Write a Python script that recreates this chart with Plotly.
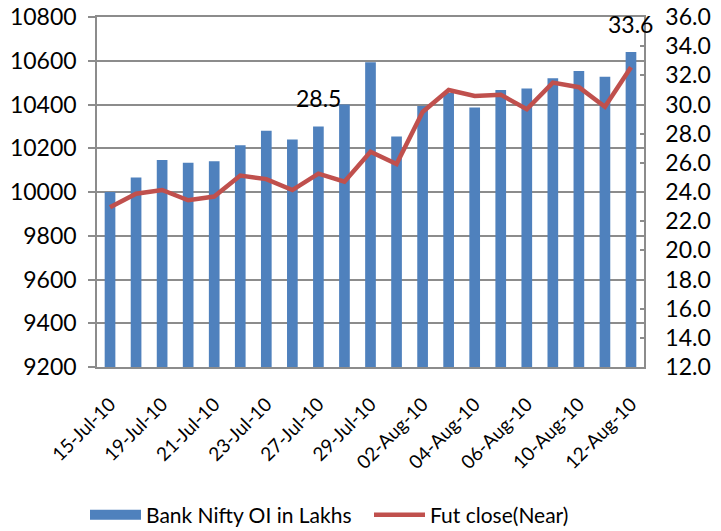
import plotly.graph_objects as go

dates = ["15-Jul-10", "16-Jul-10", "19-Jul-10", "20-Jul-10", "21-Jul-10", "22-Jul-10",
         "23-Jul-10", "26-Jul-10", "27-Jul-10", "28-Jul-10", "29-Jul-10", "30-Jul-10",
         "02-Aug-10", "03-Aug-10", "04-Aug-10", "05-Aug-10", "06-Aug-10", "09-Aug-10",
         "10-Aug-10", "11-Aug-10", "12-Aug-10"]
oi_lakhs = [24.0, 25.0, 26.2, 26.0, 26.1, 27.2, 28.2, 27.6, 28.5, 30.0, 32.9, 27.8,
            29.9, 30.8, 29.8, 31.0, 31.1, 31.8, 32.3, 31.9, 33.6]
fut_close = [9930, 9992, 10009, 9962, 9979, 10075, 10059, 10009, 10084, 10047, 10184, 10128,
             10366, 10466, 10439, 10445, 10378, 10500, 10479, 10390, 10570]
label_idx = [8, 20]
tick_labels = dates[::2]

BLUE = "#4F81BD"
RED = "#C0504D"
GRID = "#8C8C8C"
FONT = "Lato"

x = list(range(len(dates)))

fig = go.Figure()
fig.add_trace(go.Bar(x=x, y=oi_lakhs, marker=dict(color=BLUE, line=dict(width=0)),
                     yaxis="y", showlegend=False, name="Bank Nifty OI in Lakhs"))
fig.add_trace(go.Scatter(x=[None], y=[None], mode="lines", yaxis="y", legend="legend",
                         line=dict(color=BLUE, width=13), name="Bank Nifty OI in Lakhs"))
fig.add_trace(go.Scatter(x=x, y=fut_close, mode="lines", yaxis="y2", legend="legend2",
                         line=dict(color=RED, width=4.5), name="Fut close(Near)"))

for i in label_idx:
    fig.add_annotation(x=x[i], y=oi_lakhs[i], xref="x", yref="y", text=f"{oi_lakhs[i]:.1f}",
                       showarrow=False, yanchor="bottom", yshift=12,
                       font=dict(family=FONT, size=23, color="#000000"))

legend_common = dict(orientation="h", xref="container", yref="container",
                     xanchor="left", yanchor="middle", font=dict(family=FONT, size=21),
                     itemwidth=51, bgcolor="rgba(0,0,0,0)")

fig.update_layout(
    width=721, height=531,
    margin=dict(l=97, r=77, t=17, b=164, autoexpand=False),
    paper_bgcolor="white", plot_bgcolor="white",
    bargap=0.59,
    font=dict(family=FONT, color="#000000"),
    xaxis=dict(range=[-0.5, 20.5], tickmode="array", tickvals=x[::2], ticktext=tick_labels,
               tickangle=-45, ticks="", showgrid=False, zeroline=False, automargin=False,
               showline=True, mirror=True, linecolor=GRID, linewidth=1.5,
               tickfont=dict(family=FONT, size=19), ticklabelstandoff=17),
    xaxis2=dict(overlaying="x", matches="x", range=[-0.5, 20.5], tickmode="array",
                tickvals=[v - 0.5 for v in x[::2]] + [20.5], showticklabels=False,
                ticks="outside", ticklen=6, tickcolor=GRID, tickwidth=1.5, automargin=False,
                showgrid=False, zeroline=False, anchor="y", side="bottom"),
    yaxis=dict(side="right", range=[12, 36], dtick=2, tickformat=".1f", automargin=False,
               showgrid=False, zeroline=False, showline=True, linecolor=GRID, linewidth=1.5,
               ticks="inside", ticklen=4, tickcolor=GRID, tickwidth=1.5,
               ticklabeloverflow="allow",
               tickfont=dict(family=FONT, size=23), ticklabelstandoff=15),
    yaxis2=dict(overlaying="y", side="left", range=[9200, 10800], dtick=200, tickformat="d",
                showgrid=True, gridcolor=GRID, gridwidth=1.5, zeroline=False, automargin=False,
                showline=True, linecolor=GRID, linewidth=1.5,
                ticks="outside", ticklen=7, tickcolor=GRID, tickwidth=1.5,
                ticklabeloverflow="allow",
                tickfont=dict(family=FONT, size=23), ticklabelstandoff=7),
    legend=dict(x=85 / 721, y=16 / 531, **legend_common),
    legend2=dict(x=369 / 721, y=16 / 531, **legend_common),
)

fig.write_html("out.html", config={"displayModeBar": False},
               post_script="document.body.style.margin='0px';")
